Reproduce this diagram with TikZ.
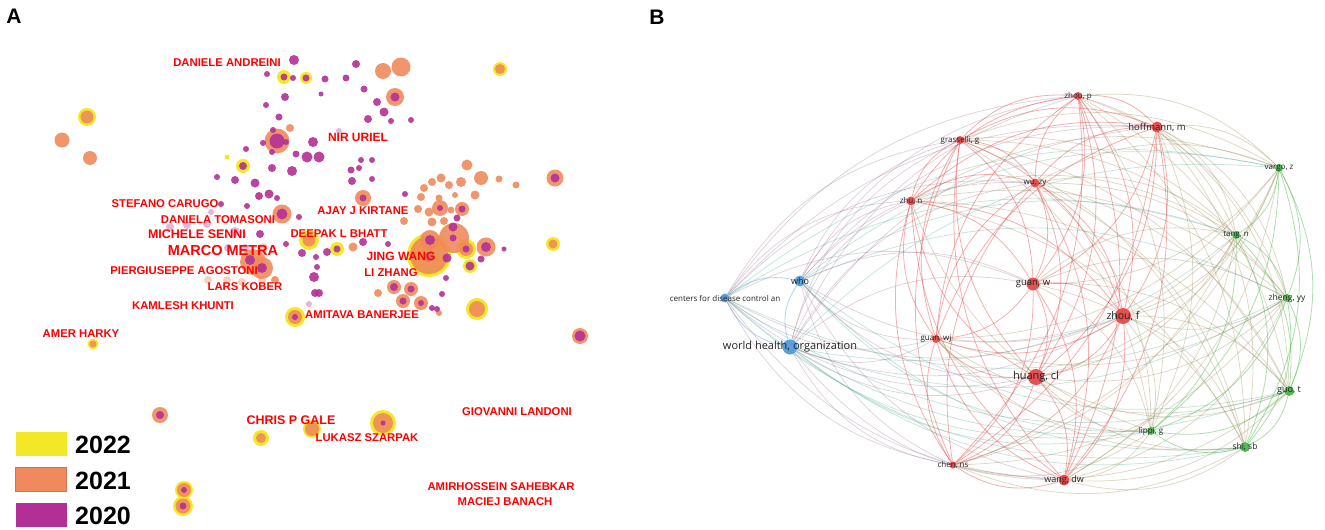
\documentclass[tikz,border=0pt]{standalone}
\usepackage{fontspec}
\setmainfont{Liberation Sans}
\newfontfamily\vosfont{Open Sans}
\usetikzlibrary{backgrounds}

\definecolor{yel}{RGB}{242,232,40}
\definecolor{org}{RGB}{240,138,92}
\definecolor{pur}{RGB}{178,48,150}
\definecolor{vred}{RGB}{228,62,62}
\definecolor{vblue}{RGB}{72,150,218}
\definecolor{vgreen}{RGB}{60,178,60}
\definecolor{labgray}{RGB}{35,35,35}

\tikzset{
  alab/.style={text=red, font=\bfseries\fontsize{11.3}{11.3}\selectfont, inner sep=0pt},
  bnode/.style={circle, fill=#1, fill opacity=0.9, inner sep=0pt},
  blab/.style={text=labgray, font=\vosfont\fontsize{8}{8}\selectfont, inner sep=0pt},
  link/.style={line width=0.8pt, draw opacity=0.42},
  xlink/.style={line width=0.75pt, draw opacity=0.3},
  legbox/.style={minimum width=51pt, minimum height=24pt, inner sep=0pt},
  legtxt/.style={font=\bfseries\fontsize{25}{25}\selectfont, anchor=west, inner sep=0pt}
}

\begin{document}
\begin{tikzpicture}[x=1pt,y=-1pt]
\useasboundingbox (0,0) rectangle (1325,530);

% panel letters
\node[font=\bfseries\fontsize{21}{21}\selectfont] (pa) at (14,16) {A};
\node[font=\bfseries\fontsize{21}{21}\selectfont] (pb) at (657,17) {B};

% ---------- A: overlay map ----------
\foreach \x/\y/\r in {284/77/7, 306/78/6, 500/69/7, 87/117/9, 227/157/2.5, 243/166/7,
  309/240/10, 337/249/7, 429/255/22, 466/249/10, 470/266/7, 553/244/7, 477/309/11,
  295/317/10, 93/344/5.5, 261/438/8, 312/429/9, 383/423/13, 184/490/9, 183/506/10}
  \fill[yel] (\x,\y) circle (\r pt);
\foreach \x/\y/\r in {383/71/8, 401/67/9.5, 500/69/5, 87/117/6.5, 62/140/7.5, 90/158/7,
  277/141/12.5, 290/128/4, 395/97/9, 363/198/8, 467/165/5.5, 481/178/7, 499/179/3.5,
  516/185/3.5, 555/178/8.5, 441/178/4.5, 432/182/4, 424/188/4, 449/185/4, 461/182/5,
  421/197/4, 439/198/3.5, 455/195/3, 475/195/4.5, 440/208/8, 462/209/7, 429/212/4.5,
  418/209/4, 451/210/3.5, 404/221/4, 432/222/4.5, 444/221/4, 282/214/9.5, 309/240/6.5,
  353/247/4.5, 429/255/19, 454/238/15, 430/240/10, 466/249/7, 486/247/9.5, 553/244/4.5,
  394/287/7, 411/289/7, 403/301/7, 421/303/7, 439/313/3, 477/309/8, 378/293/4, 580/336/8,
  295/317/7, 93/344/3.5, 160/415/8, 261/438/5, 312/429/7, 383/423/10, 184/490/7,
  183/506/7.5, 253/262/13, 262/268/11, 275/280/4}
  \fill[org, fill opacity=0.9] (\x,\y) circle (\r pt);
\foreach \x/\y/\r in {263/248/5, 262/280/4, 242/282/4, 227/280/4, 208/280/4}
  \fill[org, fill opacity=0.4] (\x,\y) circle (\r pt);
\foreach \x/\y/\r in {294/60/5, 267/74/3, 284/77/3.5, 293/78/3, 306/78/3.5, 325/79/3.5,
  346/78/3.5, 356/64/4, 321/94/2.5, 285/97/4, 364/89/3.5, 377/102/4, 384/112/4.5,
  368/119/4, 266/105/3, 279/117/3.5, 277/141/7.5, 273/130/3, 263/143/3, 286/142/3,
  272/152/3, 313/142/5, 246/149/3, 243/166/4, 296/154/3.5, 307/157/5.5, 319/157/5.5,
  272/168/4, 292/171/5, 217/177/3, 235/180/4, 255/183/4.5, 259/196/4, 269/194/4.5,
  277/198/3, 361/160/3, 372/160/3, 351/170/3.5, 359/168/3, 372/179/3, 352/181/4,
  363/198/3.5, 395/97/4.5, 391/121/3, 411/120/3, 555/178/4.5, 405/194/3, 440/208/3,
  462/209/3.5, 457/218/3.5, 453/227/4.5, 430/240/5, 453/238/3.5, 447/258/4.5, 466/249/3.5,
  486/247/5, 470/266/4.5, 481/259/3.5, 504/249/2.5, 388/244/3, 446/278/3, 394/287/4,
  411/289/3.5, 403/301/3.5, 421/303/3, 442/294/3, 432/308/3, 580/336/5.5, 221/204/3,
  247/206/3, 282/214/5.5, 299/217/3, 260/234/4, 286/244/3, 302/253/4, 327/252/4,
  316/257/3, 317/267/3, 314/277/5, 315/293/4, 363/242/4, 295/317/3, 160/415/4,
  383/423/2.5, 184/490/3, 183/506/3.5, 250/260/5, 262/268/5, 319/293/4, 437/309/3,
  337/249/3.5}
  \fill[pur, fill opacity=0.9] (\x,\y) circle (\r pt);
\foreach \x/\y/\r in {207/224/4, 170/227/4, 187/225/4, 235/232/5, 228/248/4, 245/248/4,
  211/212/3, 309/304/3, 429/257/5, 339/131/3}
  \fill[pur, fill opacity=0.35] (\x,\y) circle (\r pt);

\node[alab] (andreini) at (227,63) {DANIELE ANDREINI};
\node[alab, font=\bfseries\fontsize{12}{12}\selectfont] (uriel) at (358,137) {NIR URIEL};
\node[alab] (carugo) at (165,204) {STEFANO CARUGO};
\node[alab] (tomasoni) at (218,220) {DANIELA TOMASONI};
\node[alab, font=\bfseries\fontsize{12.5}{12.5}\selectfont] (senni) at (197,234) {MICHELE SENNI};
\node[alab, font=\bfseries\fontsize{14.5}{14.5}\selectfont] (metra) at (223,251) {MARCO METRA};
\node[alab] (agostoni) at (184,271) {PIERGIUSEPPE AGOSTONI};
\node[alab] (kober) at (245,287) {LARS KOBER};
\node[alab] (khunti) at (183,306) {KAMLESH KHUNTI};
\node[alab] (harky) at (81,334) {AMER HARKY};
\node[alab] (kirtane) at (363,211) {AJAY J KIRTANE};
\node[alab] (bhatt) at (339,234) {DEEPAK L BHATT};
\node[alab, font=\bfseries\fontsize{12}{12}\selectfont] (wang) at (401,256) {JING WANG};
\node[alab] (zhang) at (391,273) {LI ZHANG};
\node[alab] (banerjee) at (362,315) {AMITAVA BANERJEE};
\node[alab, font=\bfseries\fontsize{12.5}{12.5}\selectfont] (gale) at (291,420) {CHRIS P GALE};
\node[alab] (szarpak) at (367,438) {LUKASZ SZARPAK};
\node[alab] (landoni) at (517,412) {GIOVANNI LANDONI};
\node[alab] (sahebkar) at (501,487) {AMIRHOSSEIN SAHEBKAR};
\node[alab] (banach) at (505,502) {MACIEJ BANACH};

% legend
\node[legbox, fill=yel] (ly) at (41,444) {};
\node[legbox, fill=org, draw=org!85!black, line width=0.4pt] (lo) at (41,479) {};
\node[legbox, fill=pur] (lp) at (41,515) {};
\node[legtxt] at (75,445) {2022};
\node[legtxt] at (75,481) {2021};
\node[legtxt] at (75,516) {2020};

% ---------- B: co-citation network ----------
\coordinate (mid) at (1010,290);
\node[bnode=vblue, minimum size=9pt, label={[blab]center:centers for disease control an}] (centers) at (725,298) {};
\node[bnode=vblue, minimum size=11pt, label={[blab, font=\vosfont\fontsize{9}{9}\selectfont]center:who}] (who) at (800,281) {};
\node[bnode=vblue, minimum size=15pt, label={[blab, font=\vosfont\fontsize{11}{11}\selectfont]center:world health, organization}] (world) at (790,347) {};
\node[bnode=vred, minimum size=8pt, label={[blab]center:zhou, p}] (zhoup) at (1078,96) {};
\node[bnode=vred, minimum size=11pt, label={[blab, font=\vosfont\fontsize{9.5}{9.5}\selectfont]center:hoffmann, m}] (hoff) at (1157,127) {};
\node[bnode=vred, minimum size=8pt, label={[blab]center:grasselli, g}] (grass) at (960,140) {};
\node[bnode=vred, minimum size=9pt, label={[blab]center:wu, zy}] (wuzy) at (1035,183) {};
\node[bnode=vred, minimum size=9pt, label={[blab]center:zhu, n}] (zhun) at (911,201) {};
\node[bnode=vred, minimum size=13pt, label={[blab, font=\vosfont\fontsize{9.5}{9.5}\selectfont]center:guan, w}] (guanw) at (1033,284) {};
\node[bnode=vred, minimum size=16pt, label={[blab, font=\vosfont\fontsize{10.5}{10.5}\selectfont]center:zhou, f}] (zhouf) at (1123,316) {};
\node[bnode=vred, minimum size=8pt, label={[blab]center:guan, wj}] (guanwj) at (936,339) {};
\node[bnode=vred, minimum size=16pt, label={[blab, font=\vosfont\fontsize{11}{11}\selectfont]center:huang, cl}] (huang) at (1036,377) {};
\node[bnode=vred, minimum size=7pt, label={[blab]center:chen, ns}] (chen) at (953,465) {};
\node[bnode=vred, minimum size=11pt, label={[blab, font=\vosfont\fontsize{9}{9}\selectfont]center:wang, dw}] (wangdw) at (1064,480) {};
\node[bnode=vgreen, minimum size=8pt, label={[blab]center:vargo, z}] (vargo) at (1279,168) {};
\node[bnode=vgreen, minimum size=8pt, label={[blab]center:tang, n}] (tang) at (1236,235) {};
\node[bnode=vgreen, minimum size=8pt, label={[blab, font=\vosfont\fontsize{8.5}{8.5}\selectfont]center:zheng, yy}] (zheng) at (1287,298) {};
\node[bnode=vgreen, minimum size=10pt, label={[blab, font=\vosfont\fontsize{9}{9}\selectfont]center:guo, t}] (guot) at (1289,391) {};
\node[bnode=vgreen, minimum size=10pt, label={[blab, font=\vosfont\fontsize{8.5}{8.5}\selectfont]center:shi, sb}] (shisb) at (1245,447) {};
\node[bnode=vgreen, minimum size=8pt, label={[blab]center:lippi, g}] (lippi) at (1151,431) {};

\def\bnodes{centers/vblue, who/vblue, world/vblue, zhoup/vred, hoff/vred, grass/vred,
  wuzy/vred, zhun/vred, guanw/vred, zhouf/vred, guanwj/vred, huang/vred, chen/vred,
  wangdw/vred, vargo/vgreen, tang/vgreen, zheng/vgreen, guot/vgreen, shisb/vgreen, lippi/vgreen}
\begin{scope}[on background layer]
\foreach \a/\ca [count=\i] in \bnodes {
  \foreach \b/\cb [count=\j] in \bnodes {
    \ifnum\j>\i
      \pgfmathanglebetweenpoints{\pgfpointanchor{mid}{center}}{\pgfpointanchor{\a}{center}}
      \let\anga\pgfmathresult
      \pgfmathanglebetweenpoints{\pgfpointanchor{mid}{center}}{\pgfpointanchor{\b}{center}}
      \let\angb\pgfmathresult
      \pgfmathsetmacro\bnd{mod(\angb-\anga+720,360)>180 ? 25 : -25}
      \ifx\ca\cb
        \draw[link, draw=\ca] (\a) to[bend left=\bnd] (\b);
      \else
        \draw[xlink, draw=\ca!50!\cb] (\a) to[bend left=\bnd] (\b);
      \fi
    \fi
  }
}
\end{scope}
\end{tikzpicture}
\end{document}
